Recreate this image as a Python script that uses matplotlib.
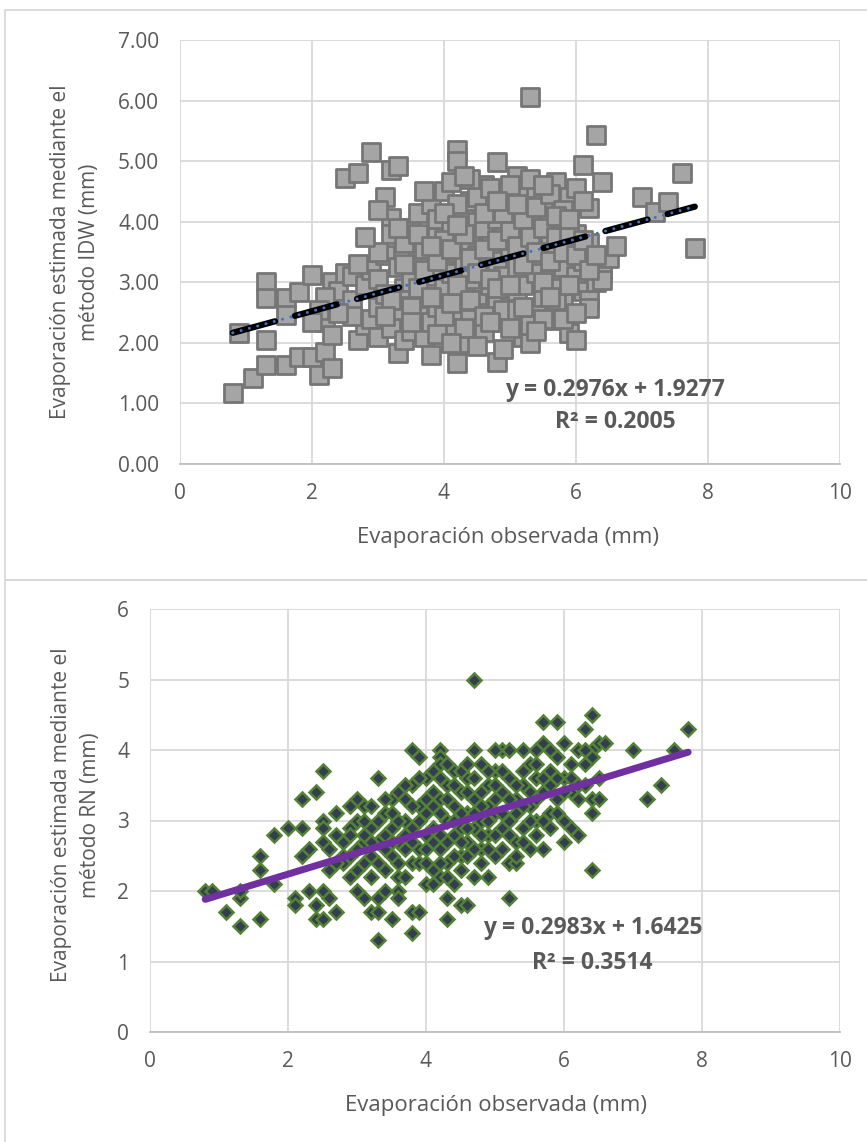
import matplotlib
matplotlib.use("Agg")
import matplotlib.pyplot as plt
from matplotlib.patches import Rectangle
import numpy as np

plt.rcParams['font.family'] = ['Open Sans', 'DejaVu Sans']

# --- top chart: IDW estimate vs observed ---
idw_obs = [0.8, 0.9, 1.1, 1.3, 1.3, 1.3, 1.3, 1.6, 1.6, 1.6, 1.8, 1.8, 2.0, 2.0, 2.1,
           2.2, 2.2, 2.3, 2.3, 2.3, 2.4, 2.5, 2.5, 2.6, 2.6, 2.7, 2.7, 2.8, 2.8, 2.9,
           2.9, 2.9, 3.0, 3.0, 3.0, 3.1, 3.1, 3.1, 3.2, 3.2, 3.2, 3.2, 3.3, 3.3, 3.3,
           3.3, 3.4, 3.4, 3.4, 3.5, 3.5, 3.5, 3.6, 3.6, 3.6, 3.7, 3.7, 3.7, 3.8, 3.8,
           3.8, 3.8, 3.9, 3.9, 3.9, 4.0, 4.0, 4.0, 4.0, 4.1, 4.1, 4.1, 4.1, 4.2, 4.2,
           4.2, 4.2, 4.2, 4.3, 4.3, 4.3, 4.3, 4.4, 4.4, 4.4, 4.4, 4.5, 4.5, 4.5, 4.5,
           4.6, 4.6, 4.6, 4.6, 4.7, 4.7, 4.7, 4.7, 4.8, 4.8, 4.8, 4.8, 4.8, 4.9, 4.9,
           4.9, 4.9, 5.0, 5.0, 5.0, 5.1, 5.1, 5.1, 5.1, 5.2, 5.2, 5.2, 5.2, 5.3, 5.3,
           5.3, 5.3, 5.4, 5.4, 5.4, 5.4, 5.5, 5.5, 5.5, 5.6, 5.6, 5.6, 5.6, 5.7, 5.7,
           5.7, 5.8, 5.8, 5.8, 5.9, 5.9, 5.9, 6.0, 6.0, 6.0, 6.1, 6.1, 6.1, 6.2, 6.2,
           6.2, 6.2, 6.3, 6.3, 6.4, 6.4, 6.4, 6.5, 6.6, 7.0, 7.2, 7.4, 7.6, 7.8,
           3.5, 3.6, 3.7, 3.8, 3.9, 4.0, 4.0, 4.1, 4.1, 4.2, 4.2, 4.3, 4.3, 4.4, 4.4,
           4.5, 4.5, 4.6, 4.6, 4.7, 4.7, 4.8, 4.8, 4.9, 4.9, 5.0, 5.0, 5.0, 5.1, 5.1,
           5.2, 5.2, 5.3, 5.3, 5.4, 5.4, 5.5, 5.5, 5.5, 5.6, 5.6, 5.7, 5.7, 5.8, 5.8,
           5.9, 5.9, 6.0, 6.0, 6.1, 6.2, 6.3, 3.0, 3.2, 3.4, 3.6, 3.8, 4.0, 4.2, 4.4,
           4.6, 4.8, 5.0, 5.2, 5.4, 5.6, 5.8, 6.0, 2.8, 3.0, 3.1, 3.3, 3.5, 3.7, 3.9,
           4.1, 4.3, 4.5, 4.7, 4.9, 5.1, 5.3, 5.5, 5.7, 5.9, 6.1, 2.6, 2.7, 2.4, 2.2,
           2.1, 2.0]
idw_est = [1.18, 2.16, 1.42, 3.00, 2.74, 2.05, 1.63, 2.74, 2.46, 1.63, 2.84, 1.77, 1.77, 3.12, 1.47,
           1.85, 2.34, 1.58, 2.13, 3.00, 2.85, 3.16, 4.72, 3.10, 2.70, 4.80, 2.05, 2.30, 2.95, 5.15,
           3.20, 2.40, 2.10, 2.60, 3.05, 4.40, 2.80, 3.45, 4.85, 4.06, 2.25, 3.80, 4.92, 1.83, 2.55,
           3.25, 2.05, 3.65, 2.90, 2.20, 3.00, 3.90, 2.45, 3.35, 4.15, 2.10, 2.75, 3.55, 2.35, 3.10,
           4.30, 1.80, 2.60, 3.75, 4.05, 2.15, 2.90, 3.40, 4.50, 2.30, 3.15, 3.85, 4.65, 1.67, 2.55,
           3.50, 5.18, 5.00, 2.00, 2.85, 3.30, 4.10, 2.40, 3.05, 3.70, 4.35, 2.20, 2.70, 3.45, 4.00,
           2.18, 3.20, 3.90, 4.60, 2.50, 2.95, 3.60, 4.25, 1.68, 4.98, 2.65, 3.35, 4.05, 2.35, 3.10,
           3.75, 4.45, 2.60, 3.50, 4.20, 2.85, 3.25, 3.95, 4.75, 2.10, 2.95, 3.65, 4.40, 6.06, 2.00,
           3.40, 4.10, 2.55, 3.15, 3.85, 4.55, 2.75, 3.55, 4.30, 2.37, 3.05, 3.70, 4.00, 2.90, 3.45,
           4.65, 3.25, 3.90, 2.65, 2.16, 3.60, 4.40, 2.05, 3.10, 3.80, 4.93, 3.35, 2.85, 2.70, 2.57,
           4.22, 3.65, 5.43, 3.00, 4.65, 3.17, 3.04, 3.40, 3.60, 4.40, 4.16, 4.33, 4.80, 3.56,
           2.60, 2.90, 3.20, 2.75, 3.35, 2.45, 3.70, 2.65, 3.55, 2.95, 4.30, 2.25, 3.80, 2.70, 3.40,
           3.15, 4.40, 2.45, 3.55, 3.05, 4.55, 2.90, 3.70, 2.55, 4.15, 2.95, 3.85, 4.60, 2.55, 3.60,
           3.30, 4.05, 2.30, 3.75, 3.50, 4.25, 2.40, 3.00, 3.90, 3.35, 4.45, 2.70, 3.75, 3.50, 4.20,
           2.95, 3.85, 3.45, 4.55, 3.70, 3.20, 3.45, 3.50, 2.70, 3.30, 3.80, 3.60, 4.15, 3.95, 4.70,
           4.15, 4.35, 2.25, 2.60, 2.20, 2.75, 2.40, 2.50, 3.75, 4.20, 2.45, 3.90, 2.35, 4.50, 2.15,
           2.00, 4.75, 1.95, 2.35, 1.90, 4.30, 4.70, 4.60, 4.10, 4.05, 4.35, 2.45, 3.30, 2.50, 2.75,
           2.55, 2.35]
idw_slope, idw_icept = 0.2976, 1.9277

# --- bottom chart: RN estimate vs observed ---
rn_obs = [0.8, 0.9, 1.1, 1.3, 1.3, 1.3, 1.6, 1.6, 1.6, 1.8, 1.8, 2.0, 2.1, 2.1, 2.2,
          2.2, 2.2, 2.3, 2.3, 2.4, 2.4, 2.4, 2.5, 2.5, 2.5, 2.5, 2.5, 2.5, 2.6, 2.6,
          2.7, 2.7, 2.7, 2.8, 2.8, 2.9, 2.9, 2.9, 3.0, 3.0, 3.0, 3.1, 3.1, 3.1, 3.1,
          3.2, 3.2, 3.2, 3.2, 3.3, 3.3, 3.3, 3.3, 3.3, 3.3, 3.4, 3.4, 3.4, 3.5, 3.5,
          3.5, 3.5, 3.6, 3.6, 3.6, 3.6, 3.7, 3.7, 3.7, 3.8, 3.8, 3.8, 3.8, 3.8, 3.8,
          3.9, 3.9, 3.9, 3.9, 4.0, 4.0, 4.0, 4.0, 4.1, 4.1, 4.1, 4.2, 4.2, 4.2, 4.2,
          4.2, 4.2, 4.3, 4.3, 4.3, 4.3, 4.3, 4.4, 4.4, 4.4, 4.4, 4.5, 4.5, 4.5, 4.5,
          4.6, 4.6, 4.6, 4.6, 4.7, 4.7, 4.7, 4.7, 4.7, 4.8, 4.8, 4.8, 4.9, 4.9, 4.9,
          4.9, 5.0, 5.0, 5.0, 5.1, 5.1, 5.1, 5.2, 5.2, 5.2, 5.2, 5.3, 5.3, 5.3, 5.4,
          5.4, 5.4, 5.5, 5.5, 5.5, 5.6, 5.6, 5.7, 5.7, 5.7, 5.7, 5.8, 5.8, 5.8, 5.9,
          5.9, 5.9, 6.0, 6.0, 6.1, 6.1, 6.2, 6.2, 6.3, 6.3, 6.4, 6.4, 6.4, 6.4, 6.4,
          6.4, 6.5, 6.6, 7.0, 7.2, 7.4, 7.6, 7.8,
          3.0, 3.1, 3.2, 3.3, 3.4, 3.4, 3.5, 3.5, 3.6, 3.6, 3.7, 3.7, 3.7, 3.8, 3.8,
          3.9, 3.9, 3.9, 4.0, 4.0, 4.0, 4.1, 4.1, 4.1, 4.1, 4.2, 4.2, 4.2, 4.2, 4.3,
          4.3, 4.3, 4.3, 4.4, 4.4, 4.4, 4.5, 4.5, 4.5, 4.5, 4.6, 4.6, 4.6, 4.6, 4.7,
          4.7, 4.7, 4.8, 4.8, 4.8, 4.8, 4.9, 4.9, 4.9, 5.0, 5.0, 5.0, 5.1, 5.1, 5.1,
          5.2, 5.2, 5.3, 5.3, 5.3, 5.4, 5.4, 5.4, 5.5, 5.5, 5.6, 5.6, 5.6, 5.7, 5.7,
          5.8, 5.8, 5.9, 5.9, 6.0, 6.0, 6.1, 6.1, 6.2, 6.2, 6.3, 6.3, 6.5, 6.5, 5.0,
          5.2, 5.6, 6.0, 3.2, 3.4, 3.6, 2.8, 2.9, 2.6, 2.7, 3.0, 3.1, 2.9]
rn_est = [2.0, 2.0, 1.7, 1.5, 1.9, 2.0, 2.5, 2.3, 1.6, 2.1, 2.8, 2.9, 1.9, 1.8, 2.9,
          3.3, 2.5, 2.0, 2.6, 3.4, 1.8, 1.6, 1.6, 3.7, 2.0, 3.0, 2.9, 2.7, 1.9, 2.3,
          1.7, 3.1, 2.8, 2.7, 2.5, 2.9, 2.8, 2.2, 2.0, 2.6, 3.0, 3.2, 2.4, 1.9, 2.7,
          3.2, 1.7, 2.9, 2.5, 3.6, 1.7, 1.3, 1.9, 3.0, 2.7, 2.3, 2.8, 3.1, 1.6, 2.5,
          2.9, 3.3, 2.0, 3.4, 2.7, 2.2, 3.3, 2.6, 3.0, 3.5, 4.0, 1.4, 1.7, 2.4, 2.9,
          3.9, 1.7, 3.2, 2.6, 3.6, 2.1, 2.8, 3.1, 2.3, 3.4, 2.9, 4.0, 3.9, 3.8, 2.2,
          2.6, 3.3, 1.6, 1.9, 3.0, 3.5, 2.4, 2.8, 3.7, 2.1, 3.2, 1.8, 2.5, 3.4, 2.9,
          1.8, 3.1, 3.6, 2.7, 5.0, 4.0, 2.2, 3.3, 2.9, 3.8, 2.6, 3.0, 2.2, 3.5, 3.2,
          2.8, 3.7, 2.5, 3.1, 4.0, 2.9, 3.4, 1.9, 2.4, 3.6, 3.0, 2.4, 3.3, 2.7, 4.0,
          3.5, 2.9, 3.8, 3.2, 2.6, 3.6, 3.0, 4.4, 4.1, 2.6, 3.4, 4.0, 3.7, 3.1, 4.4,
          3.9, 3.3, 2.7, 3.6, 2.9, 3.4, 4.0, 2.8, 4.3, 3.8, 4.5, 4.0, 3.9, 3.1, 2.3,
          3.3, 4.1, 4.1, 4.0, 3.3, 3.5, 4.0, 4.3,
          2.3, 3.0, 2.7, 2.4, 3.3, 2.6, 3.1, 2.7, 2.4, 3.0, 2.8, 3.5, 2.2, 3.2, 2.7,
          3.0, 2.4, 3.6, 3.3, 2.6, 2.4, 3.2, 2.7, 3.7, 2.1, 3.1, 2.8, 3.6, 2.4, 3.3,
          2.7, 3.8, 2.2, 3.0, 2.5, 3.5, 3.1, 2.7, 3.7, 2.3, 3.4, 2.5, 2.9, 3.8, 3.1,
          2.6, 3.6, 3.4, 2.8, 3.2, 2.4, 3.0, 3.7, 2.6, 3.3, 2.8, 3.5, 3.1, 2.6, 3.7,
          3.3, 2.8, 3.5, 3.1, 2.5, 3.2, 2.7, 3.7, 3.4, 3.0, 3.8, 3.3, 2.8, 3.6, 3.0,
          3.5, 2.9, 3.6, 3.1, 3.4, 3.0, 3.8, 3.6, 3.5, 3.3, 4.0, 3.5, 3.6, 3.3, 4.0,
          4.0, 4.0, 4.1, 2.2, 2.0, 1.9, 2.4, 2.5, 2.6, 2.4, 3.3, 2.8, 3.2]
rn_slope, rn_icept = 0.2983, 1.6425

x_label = 'Evaporación observada (mm)'
idw_ylabel = 'Evaporación estimada mediante el\nmétodo IDW (mm)'
rn_ylabel = 'Evaporación estimada mediante el\nmétodo RN (mm)'

txt = '#595959'
grid = '#d9d9d9'
W, H = 867, 1142

fig = plt.figure(figsize=(W / 100, H / 100), dpi=100)

# chart frames
for y0, y1 in [(10, 580), (580, 1150)]:
    fig.patches.append(Rectangle((5 / W, 1 - y1 / H), (W + 10) / W, (y1 - y0) / H,
                                 transform=fig.transFigure, fill=False,
                                 edgecolor=grid, lw=1.3))


def style(ax, ymax, ystep, fmt):
    ax.set_xlim(0, 10)
    ax.set_ylim(0, ymax)
    ax.set_xticks(np.arange(0, 11, 2))
    ax.set_yticks(np.arange(0, ymax + 0.01, ystep))
    ax.set_yticklabels([fmt.format(v) for v in np.arange(0, ymax + 0.01, ystep)])
    ax.grid(True, color=grid, lw=1.3, zorder=0)
    ax.set_axisbelow(True)
    for s in ['top', 'right', 'left']:
        ax.spines[s].set_visible(False)
    ax.spines['bottom'].set_color('#bfbfbf')
    ax.spines['bottom'].set_linewidth(1.3)
    ax.tick_params(length=0, labelsize=15, labelcolor=txt)
    ax.tick_params(axis='x', pad=14)
    ax.tick_params(axis='y', pad=15)


# ---- top ----
ax1 = fig.add_axes([180 / W, 1 - 464 / H, 660 / W, 424 / H])
style(ax1, 7, 1, '{:.2f}')
ax1.scatter(idw_obs, idw_est, marker='s', s=150, facecolor='#a5a5a5',
            edgecolor='#767676', linewidths=2, zorder=3)
xl = np.array([min(idw_obs), max(idw_obs)])
ax1.plot(xl, idw_slope * xl + idw_icept, color='black', lw=4.5,
         dashes=(7, 3.3), dash_capstyle='round', zorder=4)
ax1.plot(xl, idw_slope * xl + idw_icept, color='#4472c4', lw=2.2,
         dashes=(0.01, 2.8), dash_capstyle='round', zorder=5)
ax1.text(6.59, 1.22, 'y = %.4fx + %.4f' % (idw_slope, idw_icept), ha='center', va='center',
         fontsize=16.5, fontweight='bold', color=txt, zorder=6)
ax1.text(6.59, 0.69, 'R² = 0.2005', ha='center', va='center',
         fontsize=16.5, fontweight='bold', color=txt, zorder=6)
fig.text(508 / W, 1 - 537 / H, x_label, ha='center', va='center', fontsize=16, color=txt)
fig.text(75 / W, 1 - 252 / H, idw_ylabel, ha='center', va='center', rotation=90,
         fontsize=15, color=txt, linespacing=1.5)

# ---- bottom ----
ax2 = fig.add_axes([150 / W, 1 - 1032 / H, 690 / W, 423 / H])
style(ax2, 6, 1, '{:.0f}')
ax2.plot(rn_obs, rn_est, ls='none', marker='D', ms=7.5, mfc='#333f50',
         mec='#548235', mew=1.8, zorder=3)
xl = np.array([min(rn_obs), max(rn_obs)])
ax2.plot(xl, rn_slope * xl + rn_icept, color='#7030a0', lw=5,
         solid_capstyle='round', zorder=4)
ax2.text(6.41, 1.48, 'y = %.4fx + %.4f' % (rn_slope, rn_icept), ha='center', va='center',
         fontsize=16.5, fontweight='bold', color=txt, zorder=6)
ax2.text(6.41, 0.98, 'R² = 0.3514', ha='center', va='center',
         fontsize=16.5, fontweight='bold', color=txt, zorder=6)
fig.text(496 / W, 1 - 1105 / H, x_label, ha='center', va='center', fontsize=16, color=txt)
fig.text(76 / W, 1 - 815 / H, rn_ylabel, ha='center', va='center', rotation=90,
         fontsize=15, color=txt, linespacing=1.5)

fig.savefig('out.png', dpi=100)
